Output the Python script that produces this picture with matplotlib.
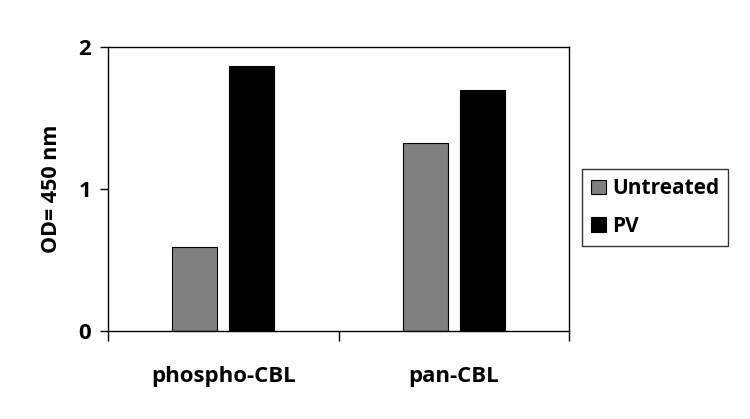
import matplotlib
matplotlib.use('Agg')
import matplotlib.pyplot as plt
import numpy as np

### Data
categories = ["phospho-CBL", "pan-CBL"]
series_names = ["Untreated", "PV"]
untreated = [0.59, 1.327]
pv = [1.868, 1.699]
y_ticks = [0, 1, 2]
###

plt.rcParams['font.family'] = ['Open Sans', 'DejaVu Sans']
plt.rcParams['font.weight'] = 'bold'

fig = plt.figure(figsize=(7.5, 4.19), dpi=100)
ax = fig.add_axes([0.144, 0.21, 0.615, 0.677])

x = np.arange(len(categories))
width = 0.195
offset = 0.1235
ax.bar(x - offset, untreated, width, color="#808080", edgecolor="black", linewidth=0.8, label=series_names[0])
ax.bar(x + offset, pv, width, color="black", edgecolor="black", linewidth=0.8, label=series_names[1])

ax.set_xlim(-0.5, len(categories) - 0.5)
ax.set_ylim(0, 2)
ax.set_yticks(y_ticks)
ax.set_yticklabels([str(t) for t in y_ticks], fontsize=16, fontweight='bold')
ax.tick_params(axis='y', direction='out', length=6, width=1, pad=6)

ax.set_xticks(x)
ax.set_xticklabels(categories, fontsize=16, fontweight='bold')
ax.tick_params(axis='x', which='major', length=0, pad=25)
ax.set_xticks(np.arange(-0.5, len(categories), 1.0), minor=True)
ax.tick_params(axis='x', which='minor', direction='out', length=7, width=1)

ax.set_ylabel("OD= 450 nm", fontsize=15.5, fontweight='bold', labelpad=12)

for s in ax.spines.values():
    s.set_linewidth(1)

leg = ax.legend(loc='center left', bbox_to_anchor=(1.027, 0.435), fontsize=15, frameon=True,
                fancybox=False, edgecolor='black', handlelength=0.7, handleheight=0.7,
                handletextpad=0.3, borderpad=0.45, labelspacing=0.8, borderaxespad=0)
leg.get_frame().set_linewidth(1)
for t in leg.get_texts():
    t.set_fontweight('bold')

plt.savefig("out.png", dpi=100)
